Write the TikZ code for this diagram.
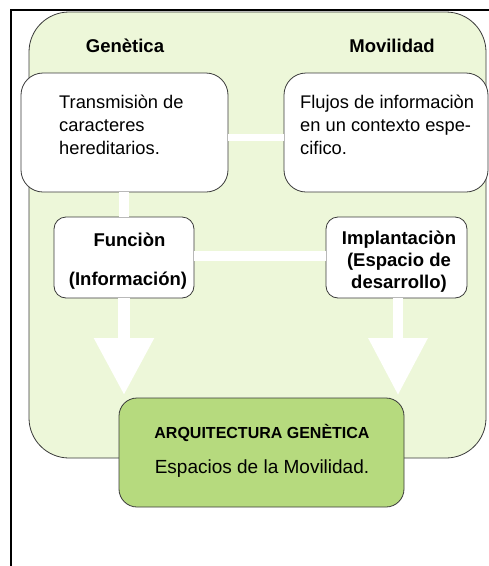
\documentclass[tikz,border=0pt]{standalone}
\usepackage{fontspec}
\setmainfont{Liberation Sans}
\usetikzlibrary{arrows.meta}
\definecolor{bgGreen}{HTML}{EDF7D9}
\definecolor{boxGreen}{HTML}{B6DA7E}
\definecolor{edgeGray}{HTML}{3A3A3A}
\tikzset{
  panel/.style={draw=edgeGray, line width=0.8pt, rounded corners=#1, inner sep=0pt, outer sep=0pt},
  conn/.style={draw=white, line width=#1},
  bigarrow/.style={draw=white, line width=#1, -{Triangle[width=57pt,length=57pt,fill=white]}},
  head/.style={font=\fontsize{18.5}{20}\selectfont\bfseries, inner sep=0pt},
  body/.style={font=\fontsize{18.3}{22.8}\selectfont, inner sep=0pt, align=left},
  boldc/.style={font=\fontsize{18.5}{22}\selectfont\bfseries, inner sep=0pt, align=center},
}
\begin{document}
\begin{tikzpicture}[x=1pt,y=-1pt]
\useasboundingbox (0,0) rectangle (489,566);
\fill[white] (0,0) rectangle (489,566);
% outer frame (top and left edges)
\coordinate (frBL) at (11,566);
\coordinate (frTL) at (11,10);
\coordinate (frTR) at (489,10);
% green background panel
\node[panel=40pt, fill=bgGreen, minimum width=457pt, minimum height=446pt] (bg) at (257.5,235) {};
\draw[black, line width=2.5pt] (frBL) -- (frTL) -- (frTR);
% headings
\node[head] (gen) at (125,46) {Genètica};
\node[head] (mov) at (392,46) {Movilidad};
% box positions
\path (124.5,132.5) coordinate (transC);
\path (386,132.5) coordinate (flujC);
\path (124,257.5) coordinate (funC);
\path (396.5,257.5) coordinate (implC);
\path (261.5,452.5) coordinate (arqC);
% boxes
\node[panel=22pt, fill=white, minimum width=207pt, minimum height=119pt] (trans) at (transC) {};
\node[panel=22pt, fill=white, minimum width=204pt, minimum height=119pt] (flujos) at (flujC) {};
\node[panel=12pt, fill=white, minimum width=140pt, minimum height=81pt] (fun) at (funC) {};
\node[panel=12pt, fill=white, minimum width=141pt, minimum height=81pt] (impl) at (implC) {};
% connectors
\draw[conn=7pt] ([yshift=-4.5pt]trans.east) -- ([yshift=-4.5pt]flujos.west);
\draw[conn=10pt] (fun.north |- trans.south) -- (fun.north);
\draw[conn=10pt] ([yshift=1.5pt]fun.east) -- ([yshift=1.5pt]impl.west);
% arrows
\coordinate (arqTop) at (0,398);
\draw[bigarrow=12pt] (fun.south) -- ([yshift=3pt]fun.south |- arqTop);
\draw[bigarrow=10pt] ([xshift=1.5pt]impl.south) -- ([xshift=1.5pt,yshift=3pt]impl.south |- arqTop);
% bottom box
\node[panel=18pt, fill=boxGreen, minimum width=285pt, minimum height=109pt] (arq) at (arqC) {};
% texts
\node[body, anchor=north west] (transT) at (59,95) {Transmisiòn de\\caracteres\\hereditarios.};
\node[body, anchor=north west] (flujT) at (300,95) {Flujos de informaciòn\\en un contexto espe-\\cifico.};
\node[boldc] (funT1) at (129.5,240) {Funciòn};
\node[boldc] (funT2) at (128,281) {(Información)};
\node[boldc] (implT) at (399,262) {Implantaciòn\\(Espacio de\\desarrollo)};
\node[font=\fontsize{16}{18}\selectfont\bfseries, inner sep=0pt] (arqT1) at (262,433) {ARQUITECTURA GENÈTICA};
\node[font=\fontsize{19}{20}\selectfont, inner sep=0pt] (arqT2) at (262,469) {Espacios de la Movilidad.};
\end{tikzpicture}
\end{document}
